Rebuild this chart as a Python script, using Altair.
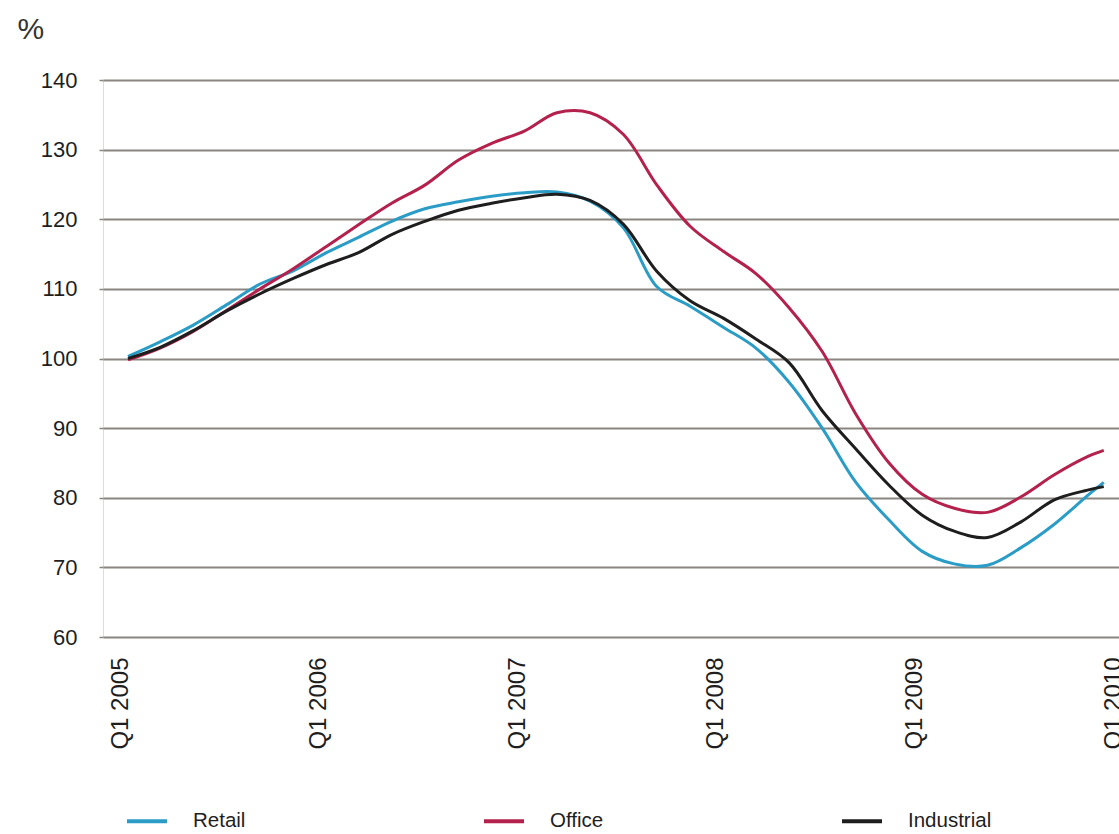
import altair as alt
import pandas as pd

# Mid-month observation dates
dates = ["2005-01-15", "2005-03-15", "2005-05-15", "2005-07-15", "2005-09-15", "2005-11-15",
         "2006-01-15", "2006-03-15", "2006-05-15", "2006-07-15", "2006-09-15", "2006-11-15",
         "2007-01-15", "2007-03-15", "2007-05-15", "2007-07-15", "2007-09-15", "2007-11-15",
         "2008-01-15", "2008-03-15", "2008-05-15", "2008-07-15", "2008-09-15", "2008-11-15",
         "2009-01-15", "2009-03-15", "2009-05-15", "2009-07-15", "2009-09-15", "2009-11-15",
         "2009-12-15"]

retail = [100.3, 102.4, 104.8, 107.7, 110.7, 112.6, 115.2, 117.4, 119.7, 121.5, 122.5, 123.3,
          123.8, 123.9, 122.6, 118.8, 110.3, 107.5, 104.5, 101.5, 96.6, 90.0, 82.2, 76.8,
          72.3, 70.5, 70.3, 72.8, 76.2, 80.3, 82.2]
office = [99.8, 101.5, 103.9, 106.9, 110.0, 112.9, 116.1, 119.2, 122.3, 124.9, 128.5, 130.9,
          132.7, 135.3, 135.3, 132.2, 124.9, 119.0, 115.4, 112.2, 107.3, 101.0, 92.0, 85.0,
          80.5, 78.5, 77.9, 80.1, 83.3, 85.9, 86.8]
industrial = [100.0, 101.6, 104.0, 106.8, 109.3, 111.5, 113.5, 115.2, 117.8, 119.7, 121.3, 122.3,
              123.1, 123.6, 122.7, 119.3, 112.5, 108.3, 105.8, 102.8, 99.4, 92.5, 87.0, 81.8,
              77.5, 75.2, 74.3, 76.5, 79.7, 81.1, 81.6]

series_names = ["Retail", "Office", "Industrial"]
series_colors = ["#2a9cc6", "#b3214c", "#1e1e1e"]
tick_years = [2005, 2006, 2007, 2008, 2009, 2010]

rows = []
for name, vals in zip(series_names, [retail, office, industrial]):
    for d, v in zip(dates, vals):
        rows.append({"date": d, "value": v, "series": name})
df = pd.DataFrame(rows)

FONT = "Liberation Sans"

chart = alt.Chart(df).mark_line(strokeWidth=3, interpolate="catmull-rom").encode(
    x=alt.X("date:T",
            scale=alt.Scale(type="utc",
                            domain=[alt.DateTime(year=2004, month=11, date=30, utc=True),
                                    alt.DateTime(year=2010, month=1, date=12, utc=True)]),
            axis=alt.Axis(values=[alt.DateTime(year=y, month=1, date=1, utc=True) for y in tick_years],
                          labelExpr="'Q1 ' + utcFormat(datum.value, '%Y')",
                          labelAngle=270, labelAlign="right", labelBaseline="middle",
                          labelPadding=20, labelFontSize=24, labelFont=FONT, labelColor="#1e1e1e",
                          ticks=False, domain=False, grid=False, title=None,
                          labelOverlap=False, labelBound=False, labelFlush=False)),
    y=alt.Y("value:Q",
            scale=alt.Scale(domain=[60, 140], nice=False, zero=False),
            axis=alt.Axis(values=list(range(60, 141, 10)), grid=True, gridColor="#8a8580",
                          gridWidth=2, domain=False, tickSize=4, tickColor="#8a8580",
                          tickWidth=1.5, labelPadding=22, labelFontSize=22, labelFont=FONT,
                          labelColor="#1e1e1e",
                          title="%", titleAngle=0, titleAlign="left", titleBaseline="alphabetic",
                          titleX=-86, titleY=-42, titleFontSize=30, titleFont=FONT,
                          titleFontWeight="normal", titleColor="#333333")),
    color=alt.Color("series:N",
                    scale=alt.Scale(domain=series_names, range=series_colors),
                    sort=series_names,
                    legend=alt.Legend(orient="none", legendX=22, legendY=719,
                                      direction="horizontal", columns=3, title=None,
                                      symbolType="stroke", symbolSize=1600,
                                      symbolStrokeWidth=4, labelOffset=24,
                                      columnPadding=230, labelFontSize=20.5,
                                      labelFont=FONT, labelColor="#1e1e1e")),
).properties(
    width=1016,
    height=557,
    autosize=alt.AutoSizeParams(type="none"),
    padding={"left": 103, "top": 80, "right": 0, "bottom": 197},
).configure_view(
    fill="#e5e1dc",
    strokeWidth=0,
).configure(background="white")

chart.save("out.html", embed_options={"renderer": "svg", "actions": False})
